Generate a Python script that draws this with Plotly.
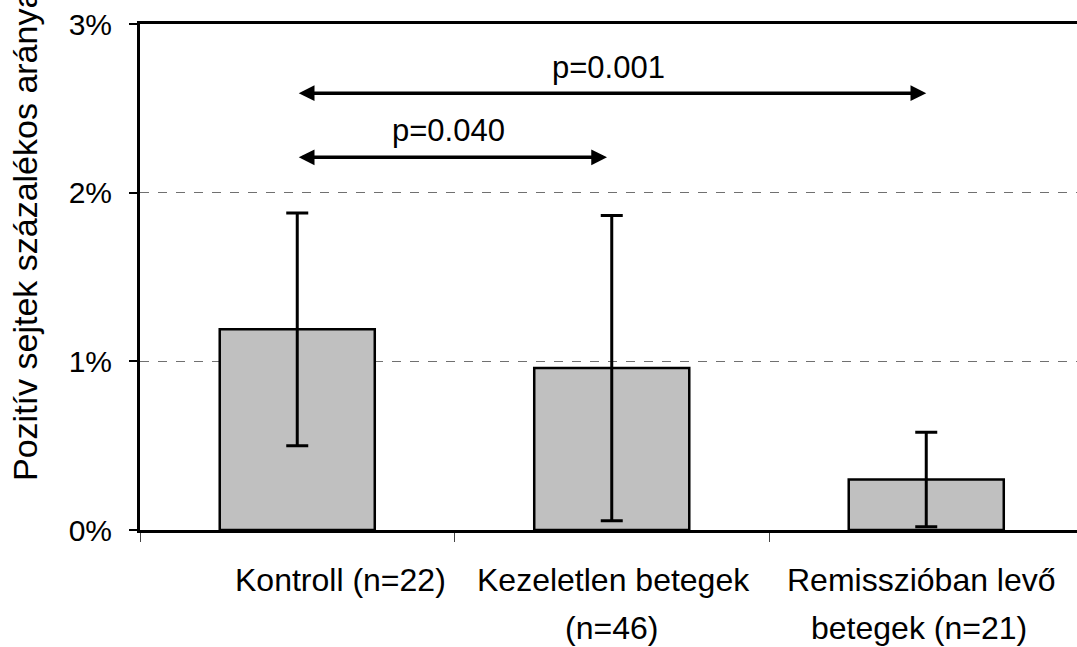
import plotly.graph_objects as go

# ---- data ----
categories = ["Kontroll (n=22)", "Kezeletlen betegek (n=46)", "Remisszióban levő betegek (n=21)"]
label_line1 = ["Kontroll (n=22)", "Kezeletlen betegek", "Remisszióban levő"]
label_line2 = ["", "(n=46)", "betegek (n=21)"]
means = [1.19, 0.96, 0.30]
errors = [0.69, 0.905, 0.28]
y_ticks = [0, 1, 2, 3]
y_ticktext = ["0%", "1%", "2%", "3%"]
comp_start = [0, 0]
comp_end = [2, 0.985]
comp_level = [2.59, 2.21]
comp_text = ["p=0.001", "p=0.040"]
comp_text_x = [0.99, 0.48]
comp_text_y = [2.74, 2.37]
y_title = "Pozitív sejtek százalékos aránya"

FONT = "Arial, Liberation Sans, sans-serif"
W, H = 1077, 647
ML, MR, MT, MB = 140, 0, 24, 117
plot_w = W - ML - MR
plot_h = H - MT - MB
cat_px = 314.5

fig = go.Figure()
fig.add_trace(go.Bar(
    x=categories, y=means, width=0.493,
    marker=dict(color="#C0C0C0", line=dict(color="black", width=2.5)),
    error_y=dict(type="data", array=errors, symmetric=True,
                 color="black", thickness=3, width=11),
    showlegend=False,
))

annotations = []
# category labels (two lines each)
shifts = [43.5, 2, -5]
for i in range(len(categories)):
    annotations.append(dict(x=i, xref="x", y=(530 - 580) / plot_h, yref="paper",
                            text=label_line1[i], showarrow=False, xshift=shifts[i],
                            xanchor="center", yanchor="middle",
                            font=dict(family=FONT, size=32, color="black")))
    if label_line2[i]:
        annotations.append(dict(x=i, xref="x", y=(530 - 628) / plot_h, yref="paper",
                                text=label_line2[i], showarrow=False, xshift=shifts[i] - 2,
                                xanchor="center", yanchor="middle",
                                font=dict(family=FONT, size=32, color="black")))
# comparison arrows
for s, e, lv, t, tx, ty in zip(comp_start, comp_end, comp_level, comp_text, comp_text_x, comp_text_y):
    annotations.append(dict(x=e, y=lv, xref="x", yref="y", ax=s, ay=lv, axref="x", ayref="y",
                            text="", showarrow=True, arrowhead=2, startarrowhead=2,
                            arrowside="end+start", arrowwidth=3.5, arrowsize=0.9,
                            startarrowsize=0.9, arrowcolor="black"))
    annotations.append(dict(x=tx, y=ty, xref="x", yref="y", text=t, showarrow=False,
                            xanchor="center", yanchor="middle",
                            font=dict(family=FONT, size=31, color="black")))
# y axis title
annotations.append(dict(x=(25 - ML) / plot_w, xref="paper", y=(530 - 236) / plot_h, yref="paper",
                        text=y_title, textangle=-90, showarrow=False,
                        xanchor="center", yanchor="middle",
                        font=dict(family=FONT, size=34, color="black")))

fig.update_layout(
    width=W, height=H,
    margin=dict(l=ML, r=MR, t=MT, b=MB, pad=0),
    paper_bgcolor="white", plot_bgcolor="white",
    font=dict(family=FONT, size=30, color="black"),
    annotations=annotations,
    xaxis=dict(type="category", range=[-0.5, -0.5 + plot_w / cat_px],
               showticklabels=False, tickson="boundaries", ticks="outside",
               ticklen=9, tickwidth=1, tickcolor="#444444",
               showline=True, linecolor="black", linewidth=3, mirror=True,
               showgrid=False, zeroline=False),
    yaxis=dict(range=[0, 3], tickmode="array", tickvals=y_ticks, ticktext=y_ticktext,
               ticks="outside", ticklen=8, tickwidth=1.5, tickcolor="black",
               ticklabelstandoff=11,
               tickfont=dict(family=FONT, size=30, color="black"),
               showline=True, linecolor="black", linewidth=3, mirror=False,
               showgrid=True, gridcolor="#707070", gridwidth=1, griddash="dash",
               zeroline=False),
)

fig.write_html("out.html")
